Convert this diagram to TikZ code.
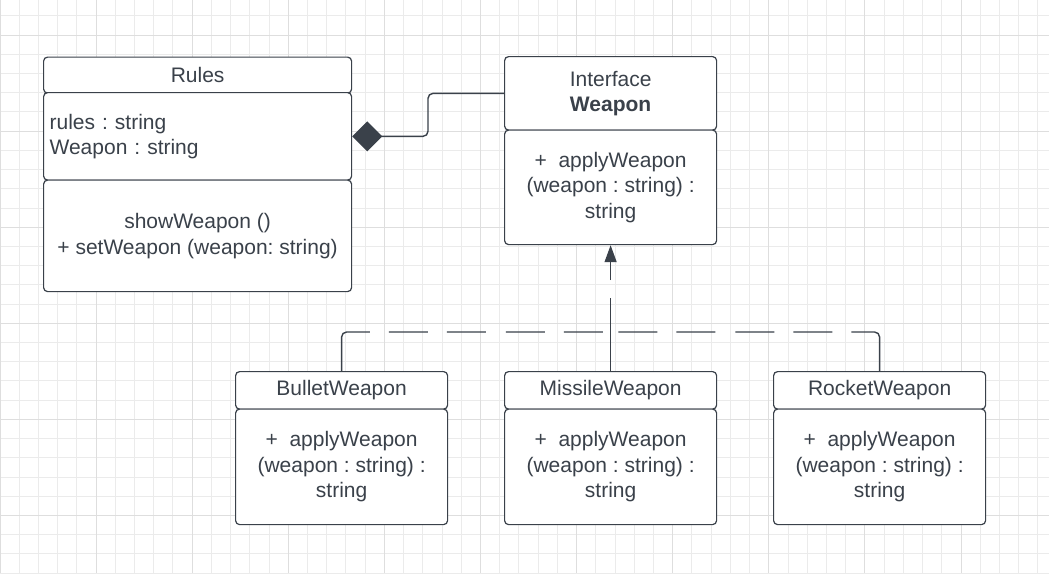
\documentclass[tikz,border=0pt]{standalone}
\usepackage{fontspec}
\setmainfont{Liberation Sans}
\usepackage{tikz}
\usetikzlibrary{arrows.meta}
\usepackage{xcolor}
\frenchspacing

\definecolor{lucidline}{RGB}{58,65,74}
\definecolor{gridminor}{RGB}{235,235,235}
\definecolor{gridmajor}{RGB}{222,222,222}
\newcommand{\umlfont}{\fontsize{21}{25.5}\selectfont}

\tikzset{
  umlbox/.style={draw=lucidline, line width=1.2pt, rounded corners=4pt, fill=white,
    inner sep=0pt, align=center, text=lucidline, font=\umlfont, anchor=north west},
  comp/.style={draw=lucidline, line width=1.4pt, rounded corners=5pt,
    -{Diamond[length=30pt,width=30pt]}},
  impl/.style={draw=lucidline, line width=1.4pt, rounded corners=5pt,
    dash pattern=on 65pt off 19pt on 39pt off 19pt on 39pt off 20pt on 39pt off 19pt on 39pt off 100pt}
}

\begin{document}
\begin{tikzpicture}[x=1pt,y=-1pt]
  \useasboundingbox (0,0) rectangle (1049,573);
  \fill[white] (0,0) rectangle (1049,573);
  % grid
  \foreach \k in {0,...,54}
    \draw[gridminor, line width=1pt] ({19.22*\k},0) -- ({19.22*\k},573);
  \foreach \k in {0,...,29}
    \draw[gridminor, line width=1pt] (0,{15.8+19.22*\k}) -- (1049,{15.8+19.22*\k});
  \foreach \k in {0,...,10}
    \draw[gridmajor, line width=1pt] ({96.1*\k},0) -- ({96.1*\k},573);
  \foreach \k in {0,...,5}
    \draw[gridmajor, line width=1pt] (0,{35+96.1*\k}) -- (1049,{35+96.1*\k});

  % Rules
  \node[umlbox, minimum width=308pt, minimum height=36pt] (rhead) at (43,56.5) {Rules};
  \node[umlbox, text width=296pt, inner xsep=6pt, align=left, minimum height=87.5pt] (rattr) at (43,92)
    {rules : string\\Weapon : string};
  \node[umlbox, minimum width=308pt, minimum height=111.5pt] (rmeth) at (43,179.5)
    {showWeapon ()\\+ setWeapon (weapon: string)};

  % Weapon interface
  \node[umlbox, minimum width=212pt, minimum height=73.5pt] (whead) at (504,56)
    {Interface\\\textbf{Weapon}};
  \node[umlbox, minimum width=212pt, minimum height=114.5pt] (wbody) at (504,129.5)
    {+~~applyWeapon\\(weapon : string) :\\string};

  % subclasses
  \node[umlbox, minimum width=212pt, minimum height=37.5pt] (bhead) at (235,371) {BulletWeapon};
  \node[umlbox, minimum width=212pt, minimum height=115.5pt] (bbody) at (235,408.5)
    {+~~applyWeapon\\(weapon : string) :\\string};
  \node[umlbox, minimum width=212pt, minimum height=37.5pt] (mhead) at (504,371) {MissileWeapon};
  \node[umlbox, minimum width=212pt, minimum height=115.5pt] (mbody) at (504,408.5)
    {+~~applyWeapon\\(weapon : string) :\\string};
  \node[umlbox, minimum width=212pt, minimum height=37.5pt] (rkhead) at (773,371) {RocketWeapon};
  \node[umlbox, minimum width=212pt, minimum height=115.5pt] (rkbody) at (773,408.5)
    {+~~applyWeapon\\(weapon : string) :\\string};

  % connectors
  \draw[comp] (whead.west) -- ++(-76,0) |- (rattr.east);
  \path (mhead.north) ++(0,-39) coordinate (junc);
  \draw[impl] (bhead.north) |- (junc);
  \draw[impl] (rkhead.north) |- (junc);
  \draw[impl, dash pattern=on 73pt off 18pt on 200pt, -{Triangle[length=17pt,width=12pt]}]
    (mhead.north) -- (wbody.south);
\end{tikzpicture}
\end{document}
